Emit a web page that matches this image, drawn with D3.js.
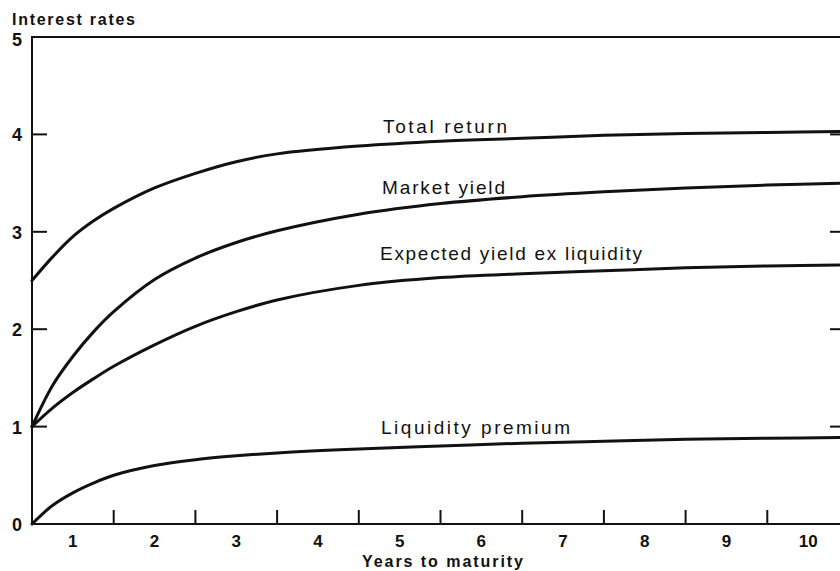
<!DOCTYPE html>
<html>
<head>
<meta charset="utf-8">
<script src="https://cdn.jsdelivr.net/npm/d3@7"></script>
<style>
  html, body { margin: 0; padding: 0; background: #fff; }
  svg { display: block; }
  text { font-family: "Liberation Sans", Arial, sans-serif; fill: #111; }
</style>
</head>
<body>
<div id="chartDiv"></div>
<script>
// Years to maturity shared by every curve
var maturities = [0, 0.25, 0.5, 0.75, 1, 1.5, 2, 2.5, 3, 4, 5, 6, 7, 8, 9, 10];

// Values (per cent)
var totalReturn = [2.50, 2.74, 2.95, 3.11, 3.24, 3.45, 3.60, 3.72, 3.80, 3.88, 3.93, 3.96, 3.99, 4.01, 4.02, 4.03];
var marketYield = [1.00, 1.42, 1.72, 1.97, 2.18, 2.51, 2.73, 2.89, 3.01, 3.18, 3.29, 3.36, 3.41, 3.45, 3.48, 3.50];
var expectedYield = [1.00, 1.19, 1.35, 1.49, 1.62, 1.84, 2.03, 2.18, 2.30, 2.45, 2.53, 2.57, 2.60, 2.63, 2.65, 2.66];
var liquidityPremium = [0.00, 0.19, 0.32, 0.42, 0.50, 0.60, 0.66, 0.70, 0.73, 0.77, 0.80, 0.83, 0.85, 0.87, 0.88, 0.89];

var yTicks = [0, 1, 2, 3, 4, 5];
var xTicks = [1, 2, 3, 4, 5, 6, 7, 8, 9];
var xLabels = ["1", "2", "3", "4", "5", "6", "7", "8", "9", "10"];

var width = 840;
var height = 571;

var x = d3.scaleLinear().domain([0, 10]).range([32, 849]);
var y = d3.scaleLinear().domain([0, 5]).range([524, 37]);

var svg = d3.select("#chartDiv")
  .append("svg")
  .attr("width", width)
  .attr("height", height);

// frame: left axis, top and right border
svg.append("rect")
  .attr("x", x(0)).attr("y", y(5))
  .attr("width", x(10) - x(0)).attr("height", y(0) - y(5))
  .attr("fill", "none").attr("stroke", "#111").attr("stroke-width", 2);

// left ticks, pointing inward
svg.selectAll(".ltick")
  .data(yTicks.slice(1, 5))
  .enter().append("line")
  .attr("x1", x(0)).attr("x2", x(0) + 15)
  .attr("y1", function(d) { return y(d); })
  .attr("y2", function(d) { return y(d); })
  .attr("stroke", "#111").attr("stroke-width", 2);

// right ticks
svg.selectAll(".rtick")
  .data(yTicks.slice(1, 5))
  .enter().append("line")
  .attr("x1", x(10)).attr("x2", x(10) - 19)
  .attr("y1", function(d) { return y(d); })
  .attr("y2", function(d) { return y(d); })
  .attr("stroke", "#111").attr("stroke-width", 2);

// bottom ticks
svg.selectAll(".btick")
  .data(xTicks)
  .enter().append("line")
  .attr("x1", function(d) { return x(d); })
  .attr("x2", function(d) { return x(d); })
  .attr("y1", y(0)).attr("y2", y(0) - 14)
  .attr("stroke", "#111").attr("stroke-width", 2);

// y tick labels
svg.selectAll(".ylab")
  .data(yTicks)
  .enter().append("text")
  .attr("x", 17)
  .attr("y", function(d) { return y(d) + (d === 5 ? 9 : 7); })
  .attr("text-anchor", "middle")
  .attr("font-size", "18px")
  .attr("font-weight", "bold")
  .text(function(d) { return d; });

// x labels sit in the middle of each year
svg.selectAll(".xlab")
  .data(xLabels)
  .enter().append("text")
  .attr("x", function(d, i) { return x(i + 0.5); })
  .attr("y", 547)
  .attr("text-anchor", "middle")
  .attr("font-size", "17px")
  .attr("font-weight", "bold")
  .text(function(d) { return d; });

svg.append("text")
  .attr("x", 12).attr("y", 25)
  .attr("font-size", "16px")
  .attr("font-weight", "bold")
  .attr("textLength", 123).attr("lengthAdjust", "spacing")
  .text("Interest rates");

svg.append("text")
  .attr("x", 362).attr("y", 567)
  .attr("font-size", "16px")
  .attr("font-weight", "bold")
  .attr("textLength", 161).attr("lengthAdjust", "spacing")
  .text("Years to maturity");

// curves
var series = [
  { values: totalReturn, label: "Total return", lx: 383, ly: 133, lw: 124 },
  { values: marketYield, label: "Market yield", lx: 382, ly: 194, lw: 123 },
  { values: expectedYield, label: "Expected yield ex liquidity", lx: 380, ly: 260, lw: 262 },
  { values: liquidityPremium, label: "Liquidity premium", lx: 381, ly: 434, lw: 189 }
];

var line = d3.line()
  .x(function(d) { return x(d[0]); })
  .y(function(d) { return y(d[1]); })
  .curve(d3.curveCatmullRom.alpha(0.5));

series.forEach(function(s) {
  var pts = maturities.map(function(m, i) { return [m, s.values[i]]; });
  svg.append("path")
    .attr("d", line(pts))
    .attr("fill", "none")
    .attr("stroke", "#111")
    .attr("stroke-width", 3)
    .attr("stroke-linecap", "round");

  svg.append("text")
    .attr("x", s.lx).attr("y", s.ly)
    .attr("font-size", "19px")
    .attr("textLength", s.lw).attr("lengthAdjust", "spacing")
    .text(s.label);
});
</script>
</body>
</html>
